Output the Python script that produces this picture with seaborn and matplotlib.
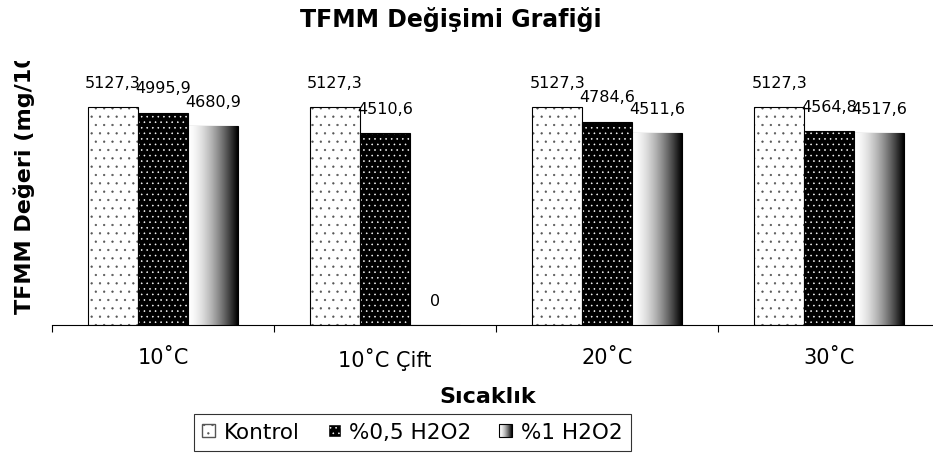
import numpy as np
import pandas as pd
import seaborn as sns
import matplotlib.pyplot as plt
from matplotlib.patches import Patch, Rectangle
from matplotlib.image import BboxImage
from matplotlib.transforms import Bbox, TransformedBbox
from matplotlib.legend_handler import HandlerBase

sicaklik = ['10˚C', '10˚C Çift', '20˚C', '30˚C']
kontrol = [5127.3, 5127.3, 5127.3, 5127.3]
h2o2_05 = [4995.9, 4510.6, 4784.6, 4564.8]
h2o2_1 = [4680.9, 0, 4511.6, 4517.6]
gruplar = ['Kontrol', '%0,5 H2O2', '%1 H2O2']

df = pd.DataFrame({
    'Sicaklik': sicaklik * 3,
    'TFMM': kontrol + h2o2_05 + h2o2_1,
    'Grup': [g for g in gruplar for _ in sicaklik],
})

sns.set_theme(style='white')
plt.rcParams['font.family'] = ['DejaVu Sans']
plt.rcParams.update({'text.color': 'black', 'axes.labelcolor': 'black',
                     'xtick.color': 'black', 'hatch.linewidth': 0.4})

grad = np.linspace(0, 1, 256) ** 1.6


class GradHandler(HandlerBase):
    def legend_artist(self, legend, orig_handle, fontsize, handlebox):
        x0, y0 = handlebox.xdescent, handlebox.ydescent
        w, h = handlebox.width, handlebox.height
        tr = handlebox.get_transform()
        bb = TransformedBbox(Bbox.from_bounds(-x0, -y0, w, h), tr)
        img = BboxImage(bb, cmap='gray_r', norm=plt.Normalize(0, 1), interpolation='bilinear')
        img.set_data(grad[None, :])
        handlebox.add_artist(img)
        rect = Rectangle((-x0, -y0), w, h, fill=False, edgecolor='black', linewidth=0.8, transform=tr)
        handlebox.add_artist(rect)
        return rect


def outline(p):
    ax.add_patch(Rectangle(p.get_xy(), p.get_width(), p.get_height(),
                           fill=False, edgecolor='black', linewidth=0.8, zorder=p.get_zorder() + 0.1))


fig = plt.figure(figsize=(9.33, 4.56), dpi=100)
ax = fig.add_axes([0.0557, 0.285, 0.952, 0.559])

sns.barplot(data=df, x='Sicaklik', y='TFMM', hue='Grup', hue_order=gruplar,
            palette=['white', 'black', 'white'], edgecolor='black', linewidth=0.8,
            width=0.675, saturation=1, legend=False, ax=ax)

# dotted fills
for p in ax.containers[0]:
    p.set_edgecolor('#555555')
    p.set_hatch('..')
    p.set_linewidth(0)
    outline(p)
for p in ax.containers[1]:
    p.set_edgecolor('white')
    p.set_hatch('...')
    p.set_linewidth(0)
    outline(p)

# gradient fill for %1
for p in ax.containers[2]:
    if p.get_height() <= 0:
        continue
    x0, y0 = p.get_xy()
    im = ax.imshow(grad[None, :], cmap='gray_r', vmin=0, vmax=1, aspect='auto',
                   extent=[x0, x0 + p.get_width(), y0, y0 + p.get_height()],
                   zorder=p.get_zorder() + 0.05)
    im.set_clip_path(p)

# value labels
for cont in ax.containers:
    for p in cont:
        v = p.get_height()
        txt = '0' if v == 0 else f'{v:.1f}'.replace('.', ',')
        ax.annotate(txt, (p.get_x() + p.get_width() / 2, v), xytext=(0, 18),
                    textcoords='offset points', ha='center', va='center', fontsize=11.5)

ax.set_xlim(-0.5, 3.5)
ax.set_ylim(0, 6000)
ax.set_yticks([])
ax.set_ylabel('')
for s in ['top', 'right', 'left']:
    ax.spines[s].set_visible(False)
ax.spines['bottom'].set_color('black')
ax.spines['bottom'].set_linewidth(0.8)
ax.set_xticks(range(4))
ax.set_xticklabels(sicaklik, fontsize=15)
ax.set_xticks(np.arange(-0.5, 4, 1), minor=True)
ax.tick_params(axis='x', which='major', length=0, pad=16)
ax.tick_params(axis='x', which='minor', length=5, width=0.8, color='black', direction='out', bottom=True)
ax.set_xlabel('Sıcaklık', fontsize=16, fontweight='bold')
ax.xaxis.set_label_coords((488 - 52) / 888, -0.24)

fig.text(0.483, 1 - 19 / 456, 'TFMM Değişimi Grafiği', ha='center', va='center',
         fontsize=17, fontweight='bold')
yl = fig.text(24 / 933, (456 - 314) / 456, 'TFMM Değeri (mg/100 g)', rotation=90,
              ha='center', va='bottom', fontsize=16, fontweight='bold')
yl.set_clip_box(Bbox.from_extents(0, 0, 933, 456 - 62))

handles = [Patch(facecolor='white', edgecolor='#555555', hatch='..'),
           Patch(facecolor='black', edgecolor='white', hatch='...'),
           Patch(facecolor='#c0c0c0', edgecolor='black')]
leg = fig.legend(handles, gruplar, loc='center', bbox_to_anchor=(0.442, 0.050), ncol=3,
                 fontsize=15.5, frameon=True, fancybox=False, edgecolor='black',
                 handlelength=0.6, handleheight=0.55, handletextpad=0.4, columnspacing=1.3,
                 borderpad=0.4, handler_map={handles[2]: GradHandler()})
leg.get_frame().set_linewidth(0.8)

fig.savefig('out.png', dpi=100)
